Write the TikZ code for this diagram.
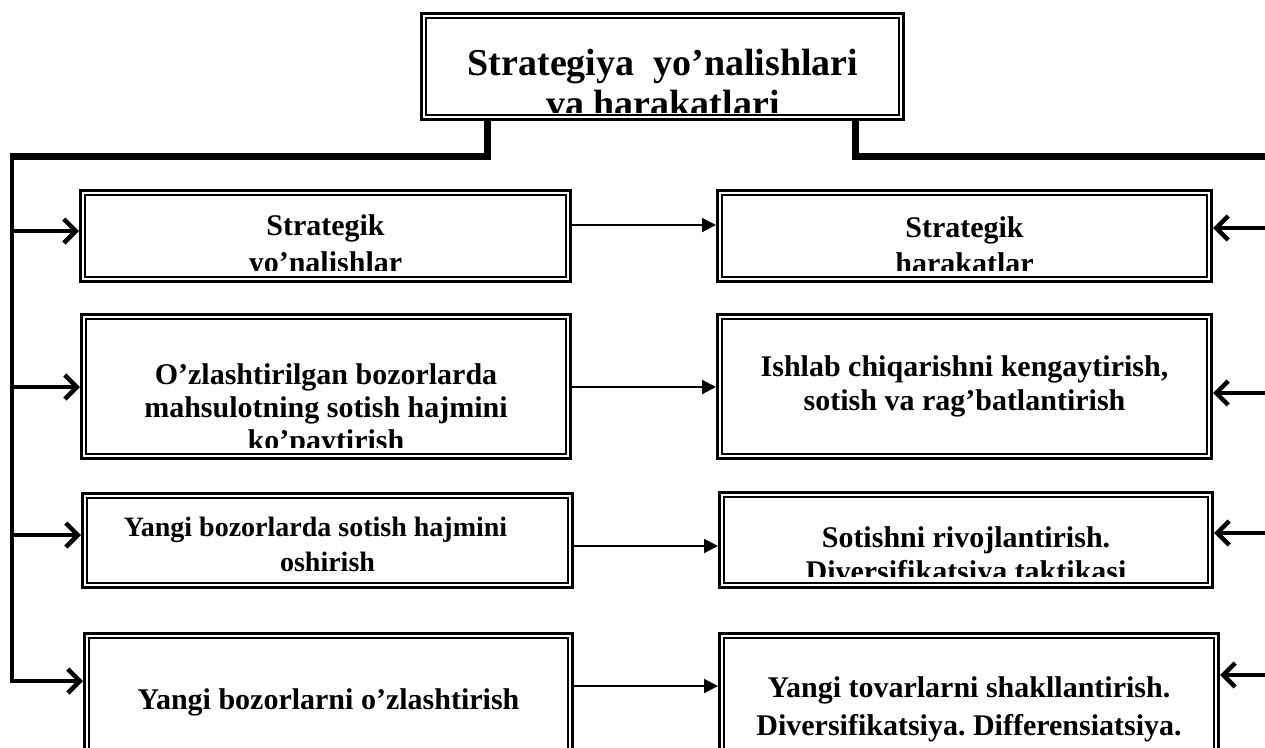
\documentclass[tikz,border=0pt]{standalone}
\usepackage{fontspec}
\setmainfont{Liberation Serif}
\usetikzlibrary{arrows.meta}
\frenchspacing

% framed box: one node with a doubled border, text clipped inside it
% #6 is the baseline of the last text line, #7 the line spacing, #8 the size
\newcommand{\stratbox}[9]{%
  \node[dbl, minimum width={(#4-#2-7.4)*1pt}, minimum height={(#5-#3-7.4)*1pt}]
    (#1) at ({(#2+#4)/2},{(#3+#5)/2}) {};
  \begin{scope}
    \clip ({#2+9},{#3+9}) rectangle ({#4-9},{#5-13});
    \node[boxtext, font=\fontsize{#8pt}{#7pt}\selectfont\bfseries, anchor=base]
      (#1-text) at ({(#2+#4)/2},#6) {#9};
  \end{scope}
}

\begin{document}
\begin{tikzpicture}[x=1pt,y=-1pt,
  dbl/.style={draw, rectangle, line width=2.6pt, double distance=2.2pt,
              inner sep=0pt, outer sep=3.7pt},
  boxtext/.style={align=center, inner sep=0pt},
  bus/.style={line width=7pt},
  feed/.style={line width=4.5pt, -{Straight Barb[length=12pt,width=24pt]}},
  link/.style={line width=2pt, -{Triangle[length=14pt,width=14pt]}}]
\useasboundingbox (0,0) rectangle (1265,747);

% title
\node[dbl, minimum width={(905-420-7.4)*1pt}, minimum height={(121-12-7.4)*1pt}]
  (T) at ({(420+905)/2},{(12+121)/2}) {};
\begin{scope}
  \clip (429,21) rectangle (896,112);
  \node[boxtext, font=\fontsize{38pt}{41pt}\selectfont\bfseries, anchor=base]
    (T-text) at (663,116) {Strategiya\ \ yo’nalishlari\\va harakatlari};
\end{scope}

% left column
\stratbox{L1}{79}{189}{572}{283}{272}{37}{30}{Strategik\\yo’nalishlar}
\stratbox{L2}{80}{313}{572}{460}{450}{33}{30}{O’zlashtirilgan bozorlarda\\mahsulotning sotish hajmini\\ko’paytirish}
\stratbox{L3}{81}{492}{574}{589}{571}{35}{28}{Yangi bozorlarda sotish hajmini\hspace*{24pt}\\oshirish}
\stratbox{L4}{83}{632}{574}{770}{709}{33}{30}{Yangi bozorlarni o’zlashtirish}

% right column
\stratbox{R1}{716}{189}{1213}{283}{273}{36}{30}{Strategik\\harakatlar}
\stratbox{R2}{716}{313}{1213}{460}{410}{34}{30}{Ishlab chiqarishni kengaytirish,\\sotish va rag’batlantirish}
\stratbox{R3}{718}{491}{1214}{589}{581}{34}{30}{Sotishni rivojlantirish.\\Diversifikatsiya taktikasi}
\stratbox{R4}{718}{632}{1220}{770}{735}{38}{30}{Yangi tovarlarni shakllantirish.\\Diversifikatsiya. Differensiatsiya.}

% rows of the connectors
\coordinate (cl) at (12,156);
\coordinate (cr) at (1268,156);
\coordinate (a1) at (12,231);
\coordinate (a2) at (12,387);
\coordinate (a3) at (12,535);
\coordinate (a4) at (12,681);
\coordinate (b1) at (1268,228);
\coordinate (b2) at (1268,393);
\coordinate (b3) at (1268,533);
\coordinate (b4) at (1268,675);
\coordinate (k1) at (0,225);
\coordinate (k2) at (0,387);
\coordinate (k3) at (0,546);
\coordinate (k4) at (0,686);

% left bus with its feeds
\draw[bus] (T.south west) ++(67,0) |- (cl);
\draw[feed, line join=miter] (cl) ++(0,-3.5) |- (L4.west |- a4);
\draw[feed] (a1) -- (L1.west |- a1);
\draw[feed] (a2) -- (L2.west |- a2);
\draw[feed] (a3) -- (L3.west |- a3);

% right bus with its feeds
\draw[bus] (T.south east) ++(-50,0) |- (cr);
\draw[bus] (cr) -- (b4);
\draw[feed] (b1) -- (R1.east |- b1);
\draw[feed] (b2) -- (R2.east |- b2);
\draw[feed] (b3) -- (R3.east |- b3);
\draw[feed] (b4) -- (R4.east |- b4);

% links between the columns
\draw[link] (L1.east |- k1) -- (R1.west |- k1);
\draw[link] (L2.east |- k2) -- (R2.west |- k2);
\draw[link] (L3.east |- k3) -- (R3.west |- k3);
\draw[link] (L4.east |- k4) -- (R4.west |- k4);
\end{tikzpicture}
\end{document}
